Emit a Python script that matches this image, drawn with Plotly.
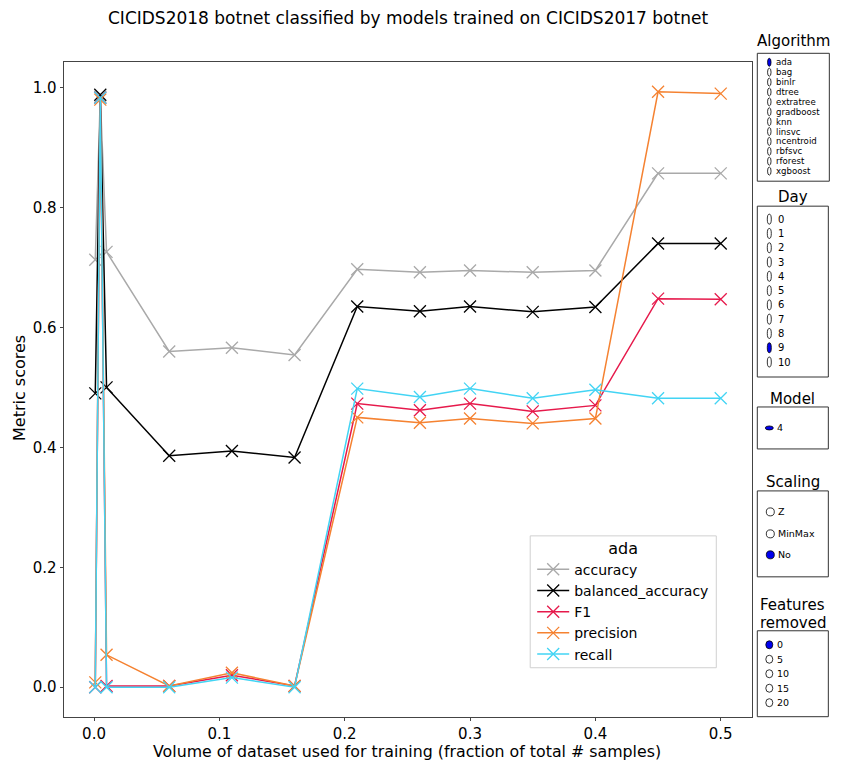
import plotly.graph_objects as go

# ---------------- data ----------------
train_fraction = [0.001, 0.005, 0.01, 0.06, 0.11, 0.16, 0.21, 0.26, 0.30, 0.35, 0.40, 0.45, 0.50]
accuracy = [0.713, 0.985, 0.726, 0.560, 0.566, 0.554, 0.697, 0.692, 0.695, 0.692, 0.695, 0.857, 0.857]
balanced_accuracy = [0.490, 0.988, 0.500, 0.386, 0.394, 0.383, 0.635, 0.627, 0.635, 0.626, 0.634, 0.740, 0.740]
f1 = [0.000, 0.983, 0.002, 0.002, 0.020, 0.002, 0.473, 0.462, 0.473, 0.460, 0.470, 0.648, 0.647]
precision = [0.008, 0.980, 0.054, 0.002, 0.024, 0.002, 0.450, 0.441, 0.448, 0.440, 0.448, 0.993, 0.990]
recall = [0.000, 0.983, 0.000, 0.000, 0.016, 0.000, 0.498, 0.484, 0.498, 0.482, 0.496, 0.482, 0.482]

series_names = ["accuracy", "balanced_accuracy", "F1", "precision", "recall"]
series_values = [accuracy, balanced_accuracy, f1, precision, recall]
series_colors = ["#a9a9a9", "#000000", "#e6194b", "#f58231", "#42d4f4"]

x_ticks = [0.0, 0.1, 0.2, 0.3, 0.4, 0.5]
y_ticks = [0.0, 0.2, 0.4, 0.6, 0.8, 1.0]

algorithms = ["ada", "bag", "binlr", "dtree", "extratree", "gradboost", "knn",
              "linsvc", "ncentroid", "rbfsvc", "rforest", "xgboost"]
days = [str(d) for d in range(11)]
models = ["4"]
scalings = ["Z", "MinMax", "No"]
features_removed = ["0", "5", "10", "15", "20"]

FONT = "DejaVu Sans"
W, H = 842, 762
PL, PR, PT, PB = 64, 751.7, 61.7, 717.3

fig = go.Figure()
for name, vals, col in zip(series_names, series_values, series_colors):
    fig.add_trace(go.Scatter(
        x=train_fraction, y=vals, name=name, mode="lines+markers",
        line=dict(color=col, width=1.5),
        marker=dict(symbol="x-thin", size=12, line=dict(color=col, width=1.3), color=col),
    ))


def px(xp):
    return (xp - PL) / (PR - PL)


def py(yp):
    return (PB - yp) / (PB - PT)


shapes = []
annotations = []

# title & axis labels
annotations.append(dict(text="CICIDS2018 botnet classified by models trained on CICIDS2017 botnet",
                        x=px(408), y=py(18), xref="paper", yref="paper", showarrow=False,
                        font=dict(family=FONT, size=17, color="#000"), xanchor="center", yanchor="middle"))
annotations.append(dict(text="Volume of dataset used for training (fraction of total # samples)",
                        x=px(407), y=py(751.5), xref="paper", yref="paper", showarrow=False,
                        font=dict(family=FONT, size=15.8, color="#000"), xanchor="center", yanchor="middle"))
annotations.append(dict(text="Metric scores", x=px(19), y=py(388), xref="paper", yref="paper",
                        showarrow=False, textangle=-90,
                        font=dict(family=FONT, size=16, color="#000"), xanchor="center", yanchor="middle"))

# legend frame (legend itself drawn by plotly on top)
shapes.append(dict(type="rect", xref="paper", yref="paper", layer="above",
                   x0=px(530), x1=px(716), y0=py(668), y1=py(536),
                   line=dict(color="#d0d0d0", width=1), fillcolor="rgba(255,255,255,0.85)"))


def panel(title_lines, title_ys, box, items, item_ys, sel, cw, ch, cx, tx, fsize):
    x0, y0, x1, y1 = box
    for t, ty in zip(title_lines, title_ys):
        annotations.append(dict(text=t, x=px((x0 + x1) / 2), y=py(ty), xref="paper", yref="paper",
                                showarrow=False, font=dict(family=FONT, size=15, color="#000"),
                                xanchor="center", yanchor="middle"))
    shapes.append(dict(type="rect", xref="paper", yref="paper", x0=px(x0), x1=px(x1),
                       y0=py(y1), y1=py(y0), line=dict(color="#333", width=1), fillcolor="white"))
    for i, (it, iy) in enumerate(zip(items, item_ys)):
        filled = (i == sel)
        shapes.append(dict(type="circle", xref="paper", yref="paper",
                           x0=px(cx - cw / 2), x1=px(cx + cw / 2),
                           y0=py(iy + ch / 2), y1=py(iy - ch / 2),
                           line=dict(color="#000", width=0.8),
                           fillcolor="#0000ee" if filled else "white"))
        annotations.append(dict(text=it, x=px(tx), y=py(iy), xref="paper", yref="paper",
                                showarrow=False, font=dict(family=FONT, size=fsize, color="#000"),
                                xanchor="left", yanchor="middle", borderpad=0))


panel(["Algorithm"], [41], (757, 53, 829, 181), algorithms,
      [62 + i * 9.9 for i in range(12)], 0, 3.5, 8, 769, 775, 8.6)
panel(["Day"], [197], (757, 206, 828, 377), days,
      [219 + i * 14.3 for i in range(11)], 9, 4, 10, 769, 777, 10)
panel(["Model"], [399], (757, 407, 828, 449), models, [428], 0, 8, 4, 769, 776, 9.5)
panel(["Scaling"], [482], (757, 491, 828, 577), scalings, [512, 534, 555], 2, 8, 8, 770, 777, 9.5)
panel(["Features", "removed"], [605, 623], (757, 631, 828, 717), features_removed,
      [645 + i * 14.5 for i in range(5)], 0, 7, 8, 769, 776, 9.5)

fig.update_layout(
    width=W, height=H, autosize=False,
    margin=dict(l=PL, r=W - PR, t=PT, b=H - PB, pad=0),
    paper_bgcolor="white", plot_bgcolor="white",
    font=dict(family=FONT, size=14, color="#000"),
    showlegend=True,
    legend=dict(
        x=px(532), y=py(533), xanchor="left", yanchor="top",
        bgcolor="rgba(0,0,0,0)", borderwidth=0,
        font=dict(family=FONT, size=14, color="#000"),
        title=dict(text="ada", side="top center", font=dict(family=FONT, size=16, color="#000")),
        itemwidth=32,
    ),
    xaxis=dict(range=[-0.02395, 0.52495], tickvals=x_ticks, ticktext=[f"{v:.1f}" for v in x_ticks],
               showgrid=False, zeroline=False, showline=True, mirror=True, linecolor="#444",
               linewidth=1, ticks="outside", ticklen=3, tickcolor="#444",
               tickfont=dict(family=FONT, size=15, color="#000")),
    yaxis=dict(range=[-0.0497, 1.0427], tickvals=y_ticks, ticktext=[f"{v:.1f}" for v in y_ticks],
               showgrid=False, zeroline=False, showline=True, mirror=True, linecolor="#444",
               linewidth=1, ticks="outside", ticklen=3.5, tickcolor="#444",
               tickfont=dict(family=FONT, size=15, color="#000")),
    shapes=shapes, annotations=annotations,
)

fig.write_html("out.html")
